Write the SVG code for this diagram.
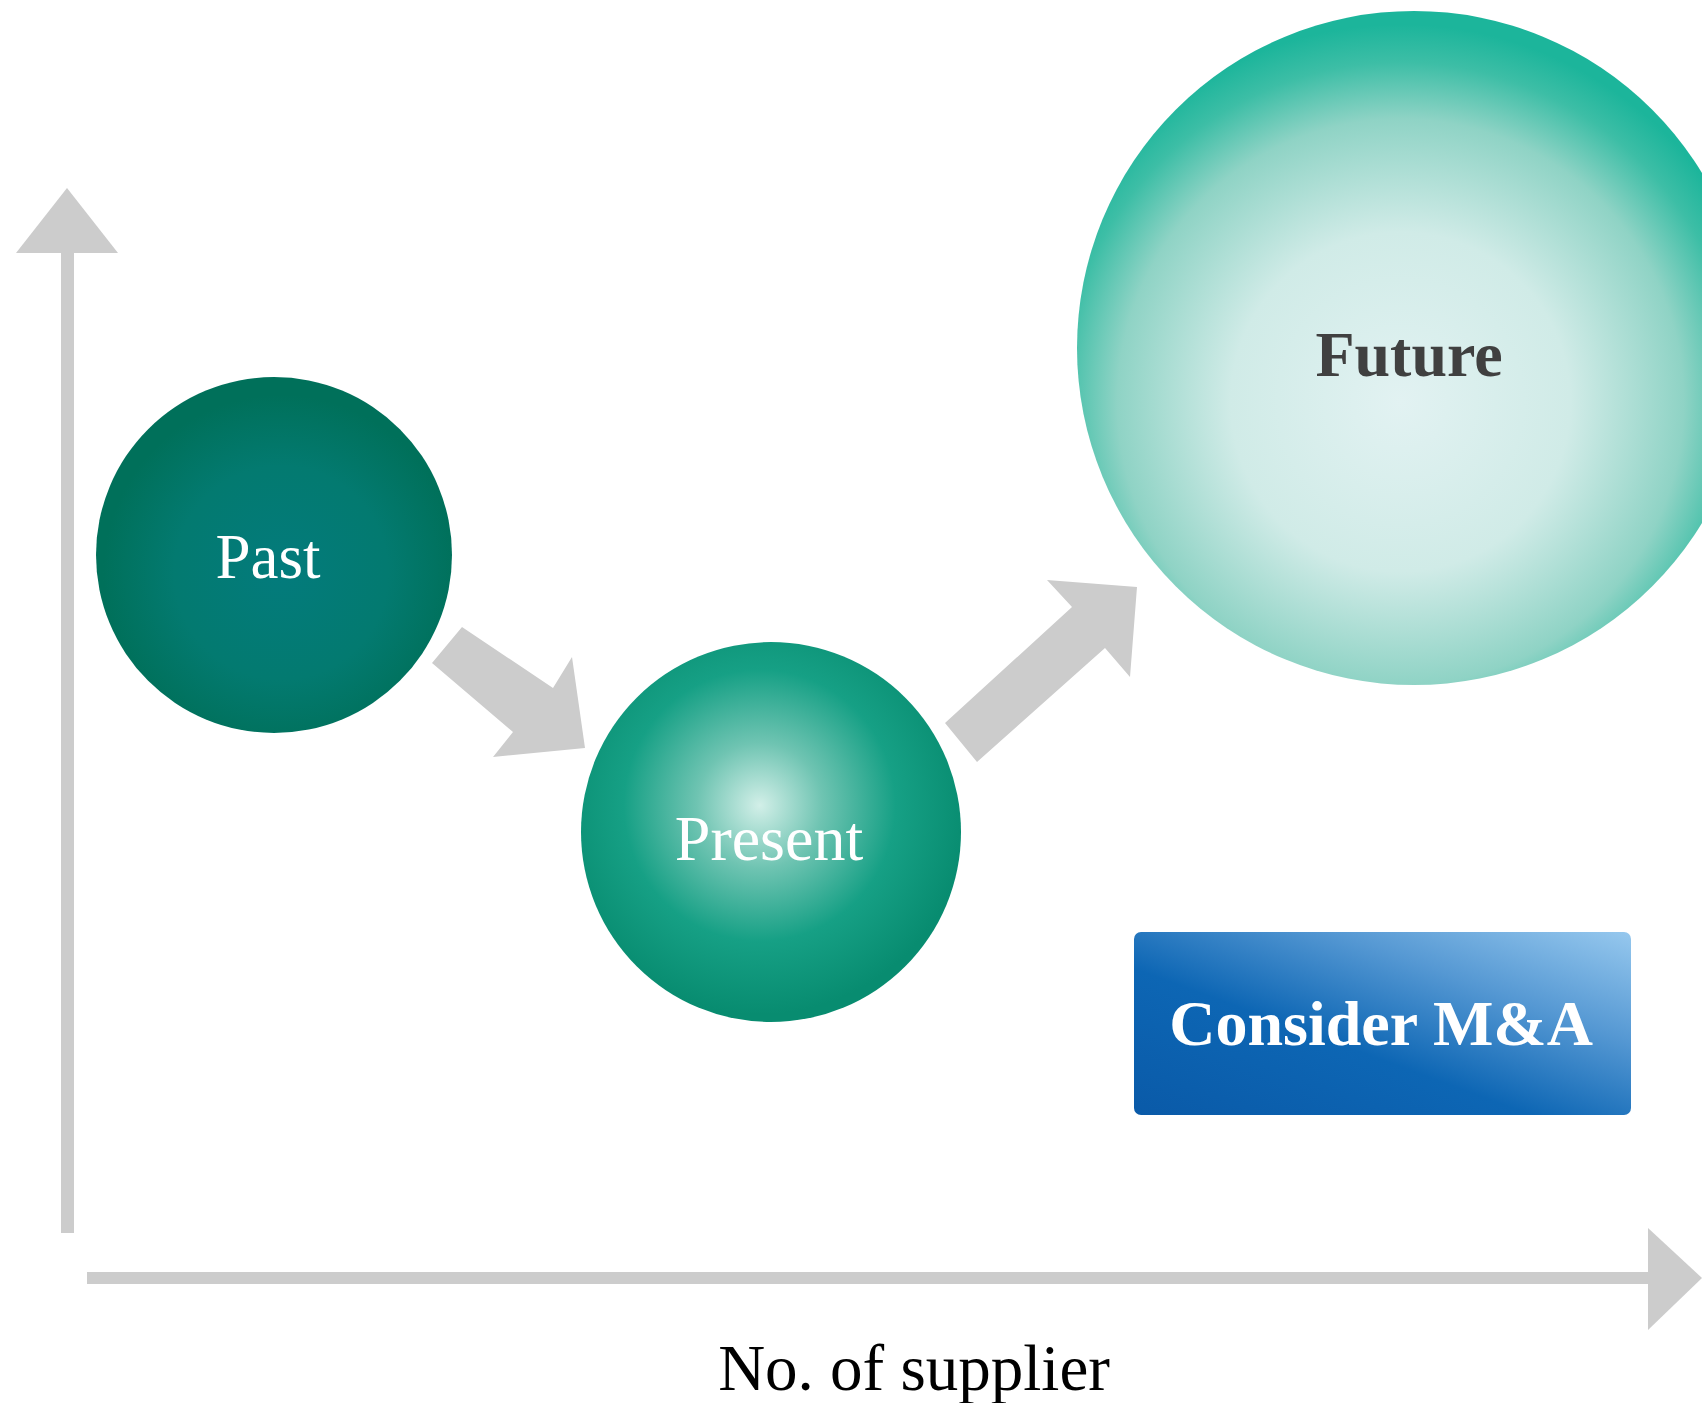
<svg xmlns="http://www.w3.org/2000/svg" width="1702" height="1403" viewBox="0 0 1702 1403">
<defs>
<radialGradient id="gPast" cx="0.52" cy="0.55" r="0.5">
<stop offset="0" stop-color="#037b7c"/>
<stop offset="0.6" stop-color="#037a70"/>
<stop offset="1" stop-color="#00705a"/>
</radialGradient>
<radialGradient id="gPresent" cx="0.47" cy="0.43" r="0.55">
<stop offset="0" stop-color="#d2efe8"/>
<stop offset="0.3" stop-color="#6fc4b2"/>
<stop offset="0.65" stop-color="#16a085"/>
<stop offset="1" stop-color="#088c70"/>
</radialGradient>
<radialGradient id="gFuture" cx="0.48" cy="0.58" r="0.56">
<stop offset="0" stop-color="#e2f2f2"/>
<stop offset="0.45" stop-color="#d0ebe7"/>
<stop offset="0.75" stop-color="#8fd3c5"/>
<stop offset="0.9" stop-color="#3dbea6"/>
<stop offset="1" stop-color="#1cb59b"/>
</radialGradient>
<linearGradient id="gBox" x1="0" y1="1" x2="1" y2="0">
<stop offset="0" stop-color="#0a5aa8"/>
<stop offset="0.4" stop-color="#0d66b4"/>
<stop offset="0.7" stop-color="#5598d3"/>
<stop offset="1" stop-color="#96c8ee"/>
</linearGradient>
<style>
.ax{fill:#cccccc}
.lbl{font-family:"Liberation Serif","Times New Roman",serif;text-anchor:middle}
</style>
</defs>
<rect width="1702" height="1403" fill="#ffffff"/>
<g id="axes">
<rect class="ax" x="61" y="245" width="13" height="988"/>
<polygon class="ax" points="67,188 118,253 16,253"/>
<rect class="ax" x="87" y="1272" width="1565" height="12"/>
<polygon class="ax" points="1648,1228 1702,1278 1648,1330"/>
</g>
<g id="node-past">
<circle cx="274" cy="555" r="178" fill="url(#gPast)"/>
<text class="lbl" x="268" y="578" font-size="63" fill="#ffffff">Past</text>
</g>
<g id="node-present">
<circle cx="771" cy="832" r="190" fill="url(#gPresent)"/>
<text class="lbl" x="769" y="860" font-size="64" fill="#ffffff">Present</text>
</g>
<g id="node-future">
<circle cx="1414" cy="348" r="337" fill="url(#gFuture)"/>
<text class="lbl" x="1409" y="376" font-size="64" font-weight="bold" fill="#404040">Future</text>
</g>
<g id="node-ma">
<rect x="1134" y="932" width="497" height="183" rx="7" fill="url(#gBox)"/>
<text class="lbl" x="1381" y="1045" font-size="64" font-weight="bold" fill="#ffffff">Consider M&amp;A</text>
</g>
<g id="connectors">
<polygon class="ax" points="462,627 553,688 572,657 585,748 493,757 513,732 432,663"/>
<polygon class="ax" points="945,723 1072,607 1047,580 1137,587 1130,677 1105,648 977,762"/>
</g>
<g id="axis-label">
<text class="lbl" x="914" y="1390" font-size="65" fill="#000000">No. of supplier</text>
</g>
</svg>
